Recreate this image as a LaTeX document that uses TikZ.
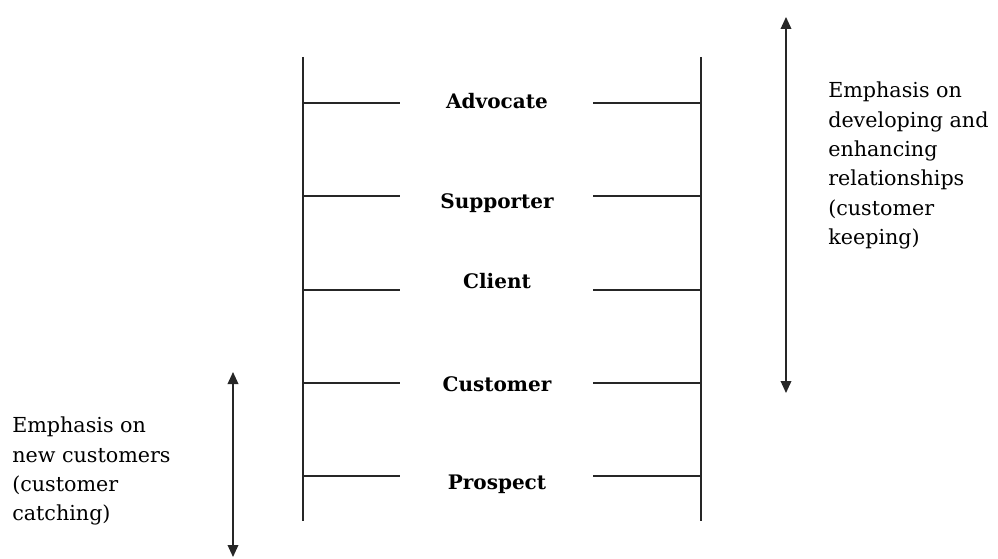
\documentclass[tikz,border=0pt]{standalone}
\usepackage{fontspec}
\setmainfont{DejaVu Serif}
\usetikzlibrary{arrows.meta}

\begin{document}
\begin{tikzpicture}[x=0.75pt,y=-0.75pt,
    rail/.style={draw=black!85,line width=1.2pt},
    twoway/.style={black!85,line width=1.1pt,{Triangle[length=9pt,width=8pt]}-{Triangle[length=9pt,width=8pt]}},
    stage/.style={font=\bfseries\fontsize{15}{18}\selectfont,anchor=base,inner sep=0pt},
    remark/.style={font=\fontsize{15.5}{22}\selectfont,align=left,anchor=north west,inner sep=0pt}]
    \useasboundingbox (0,0) rectangle (998,559);
    \def\rung#1#2#3#4{
    \coordinate (#1a) at (303,#3);
    \coordinate (#1b) at (400,#3);
    \coordinate (#1c) at (593,#3);
    \coordinate (#1d) at (701,#3);
    \node[stage] (#1) at (497,#4) {#2};
    \draw[rail] (#1a) -- (#1b) (#1c) -- (#1d);
    }

    % the ladder
    \coordinate (ltop) at (303,57);
    \coordinate (lbot) at (303,521);
    \coordinate (rtop) at (701,57);
    \coordinate (rbot) at (701,521);
    \draw[rail] (ltop) -- (lbot);
    \draw[rail] (rtop) -- (rbot);

    \rung{adv}{Advocate}{103}{109};
    \rung{sup}{Supporter}{196}{209};
    \rung{cli}{Client}{290}{288};
    \rung{cus}{Customer}{383}{391};
    \rung{pro}{Prospect}{476}{489};

    % emphasis arrows
    \coordinate (keeptop) at (786,17);
    \coordinate (keepbot) at (786,393);
    \draw[twoway] (keeptop) -- (keepbot);
    \node[remark] (keep) at (828,82) {Emphasis on\\developing and\\enhancing\\relationships\\(customer\\keeping)};

    \coordinate (catchtop) at (233,372);
    \coordinate (catchbot) at (233,557);
    \draw[twoway] (catchtop) -- (catchbot);
    \node[remark] (catch) at (12,417) {Emphasis on\\new customers\\(customer\\catching)};
\end{tikzpicture}
\end{document}
